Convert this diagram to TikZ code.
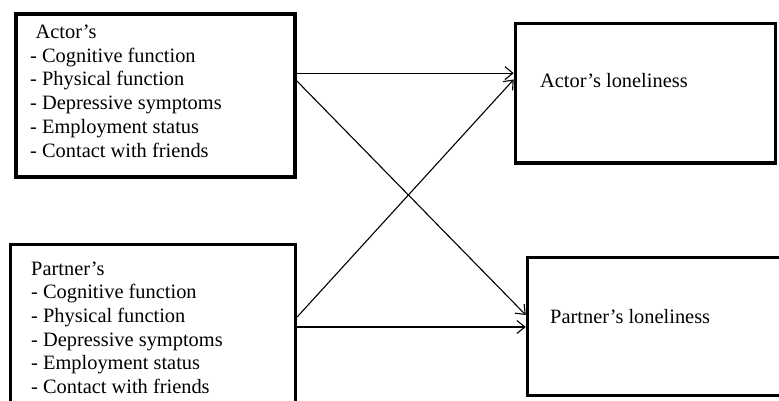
\documentclass[tikz,border=0pt]{standalone}
\usepackage{fontspec}
\setmainfont{Liberation Serif}
\usetikzlibrary{arrows.meta,calc}

\begin{document}
\begin{tikzpicture}[x=1pt,y=-1pt,
    box/.style={draw,rectangle,line width=3.5pt,inner sep=0pt},
    txt/.style={anchor=base west,align=left,inner sep=0pt,
      font=\fontsize{20.4}{23.7}\selectfont},
    link/.style={-{Straight Barb[length=8pt,width=13pt]},line width=1.1pt}]
    \useasboundingbox (0,0) rectangle (779,400);
    \clip (0,0) rectangle (779,400);

    \node[box,minimum width=279,minimum height=163] (A) at (155.3,95.5) {};
    \node[box,minimum width=285,minimum height=170] (B) at (153,329.5) {};
    \node[box,minimum width=260,minimum height=139.5] (C) at (645.5,93.3) {};
    \node[box,minimum width=260,minimum height=138] (D) at (657.5,326.5) {};

    % multi-line texts: base is the last line
    \node[txt] (At) at (30,157) {\hspace*{5.5pt}Actor's\\- Cognitive function\\- Physical function\\- Depressive symptoms\\- Employment status\\- Contact with friends};
    \node[txt] (Pt) at (31,393.5) {Partner's\\- Cognitive function\\- Physical function\\- Depressive symptoms\\- Employment status\\- Contact with friends};
    \node[txt] (Al) at (540,87) {Actor's loneliness};
    \node[txt] (Pl) at (550,323) {Partner's loneliness};

    \draw[link] (A.9) -- (A.9 -| C.west);
    \draw[link] (A.6) -- (D.175);
    \draw[link] (B.5) -- (C.174);
    \draw[link] (B.1) -- (B.1 -| D.west);
\end{tikzpicture}
\end{document}
